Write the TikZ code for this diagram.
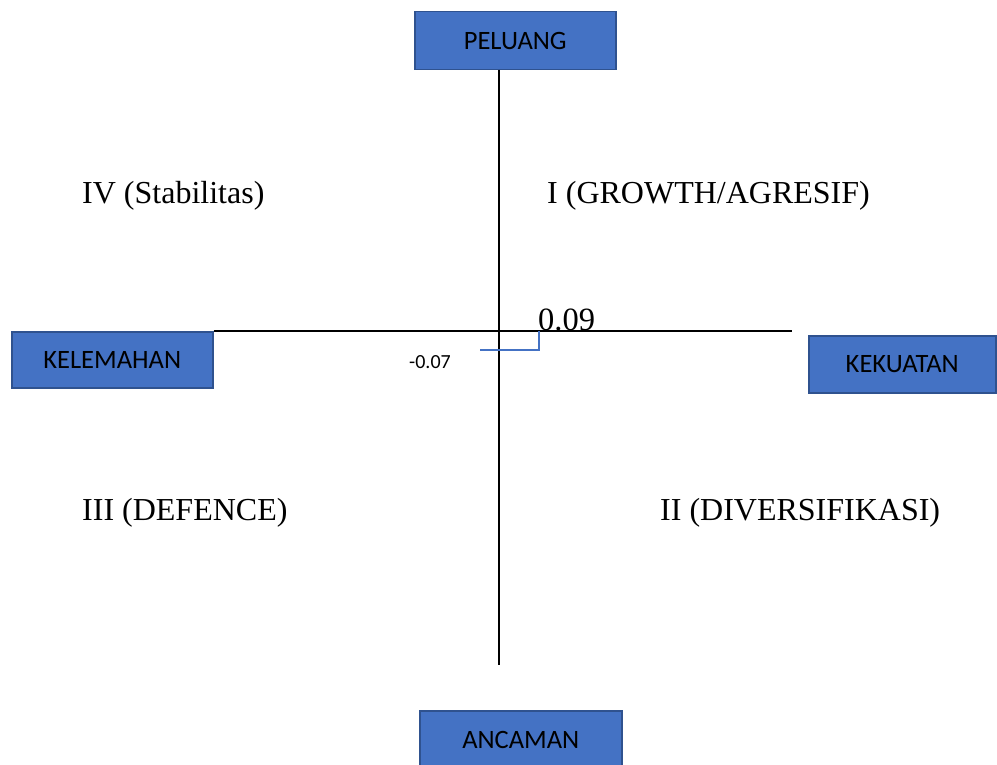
\documentclass[tikz,border=0pt]{standalone}
\usepackage{fontspec}
\setmainfont{Liberation Serif}
\newfontfamily\kotakfont{Carlito}
\definecolor{biru}{HTML}{4472C4}
\definecolor{birutua}{HTML}{2F528F}
\begin{document}
\begin{tikzpicture}[x=1pt,y=-1pt,
	kotak/.style={draw=birutua,line width=1.5pt,fill=biru,inner sep=0pt,anchor=north west,
		minimum width=201,minimum height=58,font=\kotakfont\fontsize{26.5}{30}\selectfont},
	kuadran/.style={inner sep=0pt,anchor=west,font=\fontsize{32}{38}\selectfont},
	sumbu/.style={line width=1.5pt,black}]
	\useasboundingbox (0,0) rectangle (997,765);
	%Kotak
	\node[kotak] (peluang) at (414,11) {PELUANG};
	\node[kotak,minimum height=56] (kelemahan) at (11,331) {KELEMAHAN};
	\node[kotak,minimum width=187,minimum height=57] (kekuatan) at (808,335) {KEKUATAN};
	\node[kotak,minimum width=202] (ancaman) at (419,710) {ANCAMAN};
	%Sumbu
	\coordinate (atas) at (499,70);
	\coordinate (bawah) at (499,665);
	\coordinate (kanan) at (792,331);
	\draw[sumbu] (atas) -- (bawah);
	\draw[sumbu] (kelemahan.north east) -- (kanan);
	%Kuadran
	\node[kuadran] (q4) at (82,196) {IV (Stabilitas)};
	\node[kuadran] (q1) at (547,196) {I (GROWTH/AGRESIF)};
	\node[kuadran] (q3) at (82,513) {III (DEFENCE)};
	\node[kuadran] (q2) at (660,513) {II (DIVERSIFIKASI)};
	%Titik
	\node[inner sep=0pt,anchor=base west,font=\fontsize{32.5}{38}\selectfont] (nilaix) at (538,330) {0.09};
	\node[inner sep=0pt,font=\kotakfont\fontsize{20}{24}\selectfont] (nilaiy) at (430,362) {-0.07};
	\coordinate (ujungy) at (480,350);
	\coordinate (ujungx) at (539,331);
	\draw[biru,line width=1.5pt] (ujungy) -| (ujungx);
\end{tikzpicture}
\end{document}
